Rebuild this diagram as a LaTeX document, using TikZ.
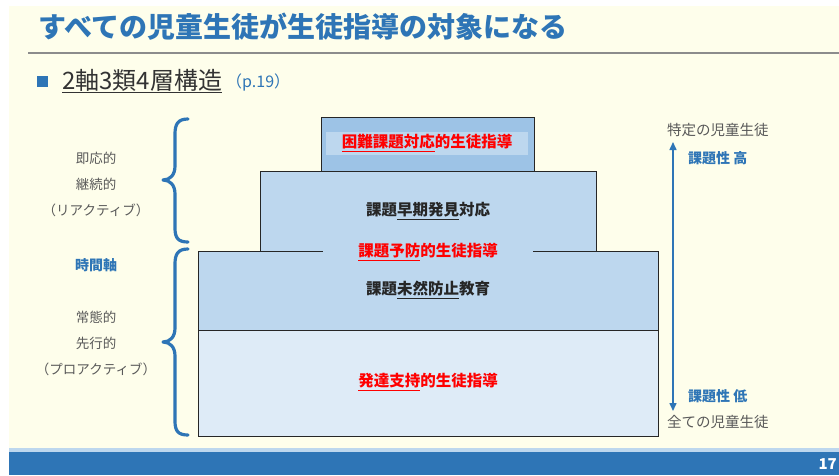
\documentclass[tikz,border=0pt]{standalone}
\usepackage{fontspec}
\setmainfont{Noto Sans CJK JP}
\usetikzlibrary{arrows.meta}
\definecolor{cream}{HTML}{FEFEEB}
\definecolor{mblue}{HTML}{2E75B6}
\definecolor{lblue}{HTML}{BDD7EE}
\definecolor{dblue}{HTML}{9DC3E6}
\definecolor{pblue}{HTML}{DEEBF7}
\definecolor{gtxt}{HTML}{595959}
\definecolor{dtxt}{HTML}{262626}
\definecolor{redt}{HTML}{FF0000}
\newcommand{\ulx}[1]{\underline{#1}}
\tikzset{
  layer/.style={draw=black!85, line width=0.9pt},
  ptext/.style={font=\fontsize{15.5}{18}\selectfont\bfseries, text=dtxt, inner sep=1pt},
  rtext/.style={font=\fontsize{15.5}{18}\selectfont\bfseries, text=redt, inner sep=1pt},
  side/.style={font=\fontsize{13.5}{16}\selectfont, text=gtxt, inner sep=0pt},
  sideb/.style={font=\fontsize{14}{16}\selectfont\bfseries, text=mblue, inner sep=0pt},
  rside/.style={font=\fontsize{14.5}{16}\selectfont, text=gtxt, inner sep=0pt, anchor=west},
  brace/.style={draw=mblue, line width=3.2pt, line cap=round, line join=round},
}
\begin{document}
\begin{tikzpicture}[x=1pt,y=-1pt]
\useasboundingbox (0,0) rectangle (839,475);
\fill[white] (0,0) rectangle (839,475);
\fill[cream] (9,6) rectangle (839,448);
\fill[lblue] (9,448) rectangle (839,452);
\fill[mblue] (9,452) rectangle (839,475);
\node[font=\fontsize{15}{16}\selectfont\bfseries, text=white, anchor=east, inner sep=0pt] (pg) at (837,464) {17};

% title
\node[anchor=west, inner sep=0pt, font=\fontsize{28}{30}\selectfont\bfseries, text=mblue] (title) at (38,27) {すべての児童生徒が生徒指導の対象になる};
\coordinate (rulel) at (28,53);
\coordinate (ruler) at (839,53);
\draw[draw=black!45, line width=1.2pt] (rulel) -- (ruler);

% bullet
\node[fill=mblue, minimum size=11pt, inner sep=0pt] (bul) at (42.5,81.5) {};
\node[anchor=west, inner sep=0pt, font=\fontsize{24}{26}\selectfont, text=black!80] (sub) at (62,81) {\underline{2軸3類4層構造}};
\node[anchor=west, inner sep=0pt, font=\fontsize{16}{18}\selectfont, text=mblue] (pref) at (226,82) {（p.19）};

% pyramid
\fill[pblue] (198,330) rectangle (658,436);
\draw[layer] (198,330) rectangle (658,436);
\fill[lblue] (198,251) rectangle (658,330);
\draw[layer] (198,251) -- (198,330) -- (658,330) -- (658,251);
\fill[lblue] (260,171) rectangle (596,251);
\draw[layer] (260,251) -- (260,171) -- (596,171) -- (596,251);
\fill[dblue] (321,117) rectangle (534,171);
\draw[layer] (321,171) -- (321,117) -- (534,117) -- (534,171);
\draw[layer] (198,251) -- (658,251);
\fill[lblue] (326,132) rectangle (528,155);

\node[rtext] (l4) at (427,143) {\ulx{困難課題対応}的生徒指導};
\node[ptext] (l3) at (428,211) {課題\ulx{早期発見}対応};
\node[rtext, fill=lblue, minimum width=210pt, minimum height=14pt] (l2) at (428,252) {\ulx{課題予防}的生徒指導};
\node[ptext] (l1) at (428,290) {課題\ulx{未然防止}教育};
\node[rtext] (l0) at (428,382) {\ulx{発達支持}的生徒指導};

% braces
\draw[brace] (188,119) .. controls (178,119) and (175,124) .. (175,134)
  -- (175,166) .. controls (175,175) and (170,180) .. (163,180)
  .. controls (170,180) and (175,185) .. (175,194)
  -- (175,228) .. controls (175,238) and (178,242) .. (188,242);
\draw[brace] (188,249) .. controls (178,249) and (175,254) .. (175,264)
  -- (175,328) .. controls (175,337) and (170,342) .. (163,342)
  .. controls (170,342) and (175,347) .. (175,356)
  -- (175,421) .. controls (175,431) and (178,435) .. (188,435);

% left labels
\node[side] (a1) at (96,158) {即応的};
\node[side] (a2) at (96,184) {継続的};
\node[side] (a3) at (96,210) {（リアクティブ）};
\node[sideb] (ax) at (96,265) {時間軸};
\node[side] (b1) at (96,317) {常態的};
\node[side] (b2) at (96,343) {先行的};
\node[side] (b3) at (96,369) {（プロアクティブ）};

% right axis
\node[rside] (top) at (667,130) {特定の児童生徒};
\node[rside] (bot) at (667,422) {全ての児童生徒};
\coordinate (atop) at (673,142);
\coordinate (abot) at (673,411);
\draw[draw=mblue, line width=1.5pt, {Triangle[length=8pt,width=7pt]}-{Triangle[length=8pt,width=7pt]}] (atop) -- (abot);
\node[sideb, anchor=west] (hi) at (688,158) {課題性 高};
\node[sideb, anchor=west] (lo) at (688,396) {課題性 低};
\end{tikzpicture}
\end{document}
